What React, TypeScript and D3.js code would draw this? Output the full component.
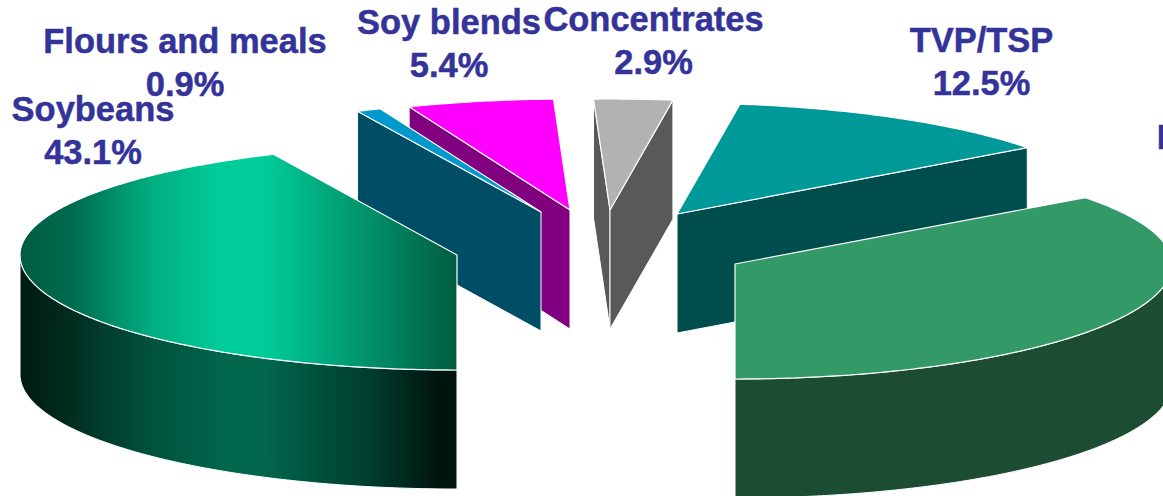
import React from "react";
import * as d3 from "d3";

const categories = ["Soybeans", "Flours and meals", "Soy blends", "Concentrates", "TVP/TSP", "Isolates"];
const shares = [43.1, 0.9, 5.4, 2.9, 12.5, 35.2];
const topColors = ["url(#soyTop)", "#0099cc", "#ff00ff", "#b2b2b2", "#009999", "#339966"];
const wallColors = ["url(#soyWall)", "#004d66", "#800080", "#595959", "#004d4d", "#1c4d33"];

// layout (exploded apex of each slice, label anchors)
const apexX = [457, 541, 570, 610, 677, 735];
const apexY = [255, 212, 210, 210, 214, 264];
const labelX = [93, 185, 449, 653.5, 981.5, 1221];
const labelY = [121, 53, 34, 31, 52, 149];
const drawOrder = [2, 1, 3, 4, 0, 5];

const W = 1163, H = 496, RX = 437, RY_FRONT = 115, RY_BACK = 111, DEPTH = 119, FONT = 35, SQUEEZE = 0.985, LEAD = 43;

const pie = d3.pie<number>().sort(null).startAngle(Math.PI).endAngle(3 * Math.PI);
const arcs = pie(shares);
const poly = d3.line<[number, number]>();

const px = (i: number, a: number) => apexX[i] + RX * Math.sin(a);
const py = (i: number, a: number) => {
  const c = Math.cos(a);
  return apexY[i] - (c > 0 ? RY_BACK : RY_FRONT) * c;
};

function rimPoints(i: number, a0: number, a1: number): [number, number][] {
  const n = Math.max(2, Math.ceil((a1 - a0) * 90));
  return d3.range(n + 1).map((k) => {
    const a = a0 + ((a1 - a0) * k) / n;
    return [px(i, a), py(i, a)] as [number, number];
  });
}

function Slice({ i }: { i: number }) {
  const { startAngle: s, endAngle: e } = arcs[i];
  const walls: string[] = [];
  const ax = apexX[i], ay = apexY[i];
  const radial = (a: number) => {
    const x = px(i, a), y = py(i, a);
    return poly([[ax, ay], [x, y], [x, y + DEPTH], [ax, ay + DEPTH]])! + "Z";
  };
  if (Math.sin(s) < -1e-6) walls.push(radial(s));
  if (Math.sin(e) > 1e-6) walls.push(radial(e));
  // curved outer wall, only the part facing the viewer (90deg..270deg)
  const addRim = (a: number, b: number) => {
    if (b <= a) return;
    const top = rimPoints(i, a, b);
    const bottom = top.map(([x, y]) => [x, y + DEPTH] as [number, number]).reverse();
    walls.push(poly([...top, ...bottom])! + "Z");
  };
  addRim(Math.max(s, Math.PI / 2), Math.min(e, 1.5 * Math.PI));
  addRim(Math.max(s, 2.5 * Math.PI), Math.min(e, 3.5 * Math.PI));
  const face = poly([[ax, ay], ...rimPoints(i, s, e)])! + "Z";
  return (
    <g>
      {walls.map((d, k) => (
        <path key={k} d={d} fill={wallColors[i]} stroke="#fff" strokeWidth={1} strokeLinejoin="round" />
      ))}
      <path d={face} fill={topColors[i]} stroke="#fff" strokeWidth={1.2} strokeLinejoin="round" />
    </g>
  );
}

export default function App() {
  const sx0 = apexX[0] - RX, sx1 = apexX[0];
  return (
    <svg
      width={W}
      height={H}
      viewBox={`0 0 ${W} ${H}`}
      style={{ position: "absolute", left: 0, top: 0, display: "block", background: "#fff" }}
    >
      <defs>
        <linearGradient id="soyTop" gradientUnits="userSpaceOnUse" x1={sx0} y1={0} x2={sx1} y2={0}>
          <stop offset="0" stopColor="#005c40" />
          <stop offset="0.12" stopColor="#006b4e" />
          <stop offset="0.3" stopColor="#00ad80" />
          <stop offset="0.46" stopColor="#00cc99" />
          <stop offset="0.56" stopColor="#00cc99" />
          <stop offset="0.8" stopColor="#009068" />
          <stop offset="1" stopColor="#005c40" />
        </linearGradient>
        <linearGradient id="soyWall" gradientUnits="userSpaceOnUse" x1={sx0} y1={0} x2={sx1} y2={0}>
          <stop offset="0" stopColor="#001a12" />
          <stop offset="0.1" stopColor="#002a1e" />
          <stop offset="0.3" stopColor="#00523c" />
          <stop offset="0.46" stopColor="#00664c" />
          <stop offset="0.56" stopColor="#00664c" />
          <stop offset="0.8" stopColor="#003d2c" />
          <stop offset="0.96" stopColor="#00140e" />
          <stop offset="1" stopColor="#00140e" />
        </linearGradient>
      </defs>
      {drawOrder.map((i) => (
        <Slice key={i} i={i} />
      ))}
      {categories.map((c, i) => (
        <g
          key={c}
          transform={`translate(${labelX[i]},${labelY[i]}) scale(${SQUEEZE},1)`}
          fontFamily="'Liberation Sans', Arial, sans-serif"
          fontWeight={700}
          fontSize={FONT}
          fill="#333399"
          stroke="#333399"
          strokeWidth={0.5}
          textAnchor="middle"
        >
          <text>{c}</text>
          <text y={LEAD}>{`${shares[i].toFixed(1)}%`}</text>
        </g>
      ))}
    </svg>
  );
}
